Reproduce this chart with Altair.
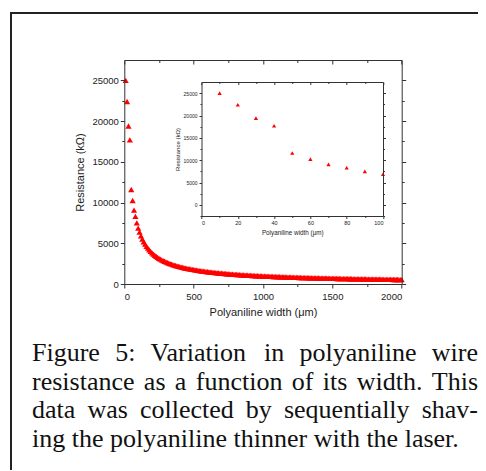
import altair as alt
import pandas as pd

# ---------------- data ----------------
inset_width = [10, 20, 30, 40, 50, 60, 70, 80, 90, 100]
inset_res = [25000, 22400, 19400, 17700, 11600, 10250, 9070, 8300, 7500, 6850]

curve_width = list(range(110, 2001, 10))
curve_res = [
    6363, 5909, 5521, 5183, 4888, 4628, 4395, 4187, 3999, 3828,
    3673, 3530, 3399, 3278, 3166, 3063, 2966, 2876, 2791, 2712,
    2637, 2567, 2501, 2438, 2379, 2323, 2269, 2218, 2170, 2124,
    2080, 2038, 1997, 1958, 1921, 1886, 1851, 1819, 1787, 1757,
    1728, 1699, 1672, 1646, 1620, 1596, 1572, 1549, 1527, 1505,
    1484, 1463, 1444, 1424, 1406, 1388, 1370, 1353, 1336, 1320,
    1304, 1289, 1274, 1259, 1245, 1231, 1217, 1204, 1191, 1178,
    1166, 1154, 1142, 1130, 1119, 1108, 1097, 1087, 1076, 1066,
    1056, 1046, 1037, 1027, 1018, 1009, 1000, 992, 983, 975,
    967, 959, 951, 943, 935, 928, 920, 913, 906, 899,
    892, 885, 879, 872, 866, 859, 853, 847, 841, 835,
    829, 823, 818, 812, 807, 801, 796, 790, 785, 780,
    775, 770, 765, 760, 755, 751, 746, 741, 737, 732,
    728, 724, 719, 715, 711, 707, 703, 699, 695, 691,
    687, 683, 679, 675, 672, 668, 664, 661, 657, 654,
    650, 647, 644, 640, 637, 634, 631, 627, 624, 621,
    618, 615, 612, 609, 606, 603, 600, 597, 594, 592,
    589, 586, 583, 581, 578, 575, 573, 570, 568, 565,
    562, 560, 558, 555, 553, 550, 548, 546, 543, 541,
]

main_x_ticks = [0, 500, 1000, 1500, 2000]
main_x_minor = [250, 750, 1250, 1750]
main_y_ticks = [0, 5000, 10000, 15000, 20000, 25000]
main_y_minor = [2500, 7500, 12500, 17500, 22500]
inset_x_ticks = [0, 20, 40, 60, 80, 100]
inset_x_minor = [10, 30, 50, 70, 90]
inset_y_ticks = [0, 5000, 10000, 15000, 20000, 25000]
inset_y_minor = [-2500, 2500, 7500, 12500, 17500, 22500]

caption_lines = [
    "Figure 5: Variation in polyaniline wire",
    "resistance as a function of its width. This",
    "data was collected by sequentially shav-",
    "ing the polyaniline thinner with the laser.",
]

# ---------------- layout ----------------
X0, Y0 = 124.3, 60.0          # page position of main plot area
W, H = 277.4, 224.0
IX0, IX1 = 201.5 - X0, 383.0 - X0   # inset frame (view coords)
IY0, IY1 = 82.0 - Y0, 216.0 - Y0

SVG_W, SVG_H = 470, 462

CAP_FS = 26
CAP_L, CAP_R = 32.0, 478.0
CAP_BASE, CAP_LEAD = 361.0, 28.5

TIMES = {' ': 250, 'a': 444, 'b': 500, 'c': 444, 'd': 500, 'e': 444, 'f': 333, 'g': 500,
         'h': 500, 'i': 278, 'l': 278, 'n': 500, 'o': 500, 'p': 500, 'q': 500, 'r': 333,
         's': 389, 't': 278, 'u': 500, 'v': 500, 'w': 722, 'y': 500, 'F': 556, 'T': 611,
         'V': 722, '5': 500, ':': 278, '.': 250, '-': 333}


def tw(s):
    return sum(TIMES.get(c, 500) for c in s) * CAP_FS / 1000.0


rows = []
for i, line in enumerate(caption_lines):
    words = line.split(' ')
    yb = CAP_BASE + i * CAP_LEAD - Y0
    if i < len(caption_lines) - 1:
        gap = (CAP_R - CAP_L - sum(tw(w) for w in words)) / (len(words) - 1)
    else:
        gap = tw(' ')
    x = CAP_L
    for w in words:
        rows.append({'word': w, 'x': x - X0, 'y': yb})
        x += tw(w) + gap
cap_df = pd.DataFrame(rows)

main_df = pd.DataFrame({'w': inset_width + curve_width, 'r': inset_res + curve_res})
inset_df = pd.DataFrame({'w': inset_width, 'r': inset_res})
dummy = pd.DataFrame({'w': [0], 'r': [0]})

AX = dict(domainColor='#333333', tickColor='#333333', labelColor='#222222',
          titleColor='#222222', labelFont='Liberation Sans', titleFont='Liberation Sans',
          titleFontWeight='normal', grid=False, zindex=1, domainWidth=1, tickWidth=1)


def mscale_x():
    return alt.Scale(domain=[0, 2000], range=[0, W], nice=False, zero=False)


def mscale_y():
    return alt.Scale(domain=[0, 27500], range=[H, 0], nice=False, zero=False)


def iscale_x():
    return alt.Scale(domain=[0, 100], range=[IX0, IX1], nice=False, zero=False)


def iscale_y():
    return alt.Scale(domain=[-2500, 27500], range=[IY1, IY0], nice=False, zero=False)


# border + caption
border = alt.Chart(dummy).mark_rect(fillOpacity=0, stroke='#222222', strokeWidth=2).encode(
    x=alt.value(11 - X0), x2=alt.value(500 - X0), y=alt.value(13 - Y0), y2=alt.value(490 - Y0))

caption = alt.Chart(cap_df).mark_text(align='left', baseline='alphabetic', font='Liberation Serif',
                                      fontSize=CAP_FS, color='#111111').encode(
    x=alt.X('x:Q', scale=None, axis=None), y=alt.Y('y:Q', scale=None, axis=None), text='word:N')

# main plot
main_pts = alt.Chart(main_df).mark_point(shape='triangle-up', filled=True, color='#ff0000',
                                         size=38, opacity=1).encode(
    x=alt.X('w:Q', scale=mscale_x(), axis=alt.Axis(
        orient='bottom', title='Polyaniline width (μm)', values=main_x_ticks, format='d',
        tickSize=4, labelFontSize=9.5, titleFontSize=11, labelPadding=3, titlePadding=6, **AX)),
    y=alt.Y('r:Q', scale=mscale_y(), axis=alt.Axis(
        orient='left', title='Resistance (kΩ)', values=main_y_ticks, format='d',
        tickSize=4, labelFontSize=9.5, titleFontSize=11, labelPadding=2, titlePadding=6, **AX)),
)

main_minor = alt.Chart(dummy).mark_point(opacity=0).encode(
    x=alt.X('w:Q', scale=mscale_x(), axis=alt.Axis(orient='bottom', title='', values=main_x_minor,
                                                  labels=False, domain=False, tickSize=2.5, **AX)),
    y=alt.Y('r:Q', scale=mscale_y(), axis=alt.Axis(orient='left', title='', values=main_y_minor,
                                                  labels=False, domain=False, tickSize=2.5, **AX)),
)

main_mirror = alt.Chart(dummy).mark_point(opacity=0).encode(
    x=alt.X('w:Q', scale=mscale_x(), axis=alt.Axis(orient='bottom', offset=-H, title='',
                                                  values=main_x_ticks, labels=False, tickSize=4, **AX)),
    y=alt.Y('r:Q', scale=mscale_y(), axis=alt.Axis(orient='right', title='', values=main_y_ticks,
                                                  labels=False, tickSize=4, **AX)),
)

main_mirror_minor = alt.Chart(dummy).mark_point(opacity=0).encode(
    x=alt.X('w:Q', scale=mscale_x(), axis=alt.Axis(orient='bottom', offset=-H, title='',
                                                  values=main_x_minor, labels=False, domain=False,
                                                  tickSize=2.5, **AX)),
    y=alt.Y('r:Q', scale=mscale_y(), axis=alt.Axis(orient='right', title='', values=main_y_minor,
                                                  labels=False, domain=False, tickSize=2.5, **AX)),
)

# inset
inset_bg = alt.Chart(dummy).mark_rect(color='white').encode(
    x=alt.value(IX0), x2=alt.value(IX1), y=alt.value(IY0), y2=alt.value(IY1))

inset_pts = alt.Chart(inset_df).mark_point(shape='triangle-up', filled=True, color='#ff0000',
                                           size=18, opacity=1).encode(
    x=alt.X('w:Q', scale=iscale_x(), axis=alt.Axis(
        orient='bottom', offset=IY1 - H, title='Polyaniline width (μm)', values=inset_x_ticks,
        format='d', tickSize=2.5, labelFontSize=5.5, titleFontSize=6.3, labelPadding=2,
        titlePadding=3, **AX)),
    y=alt.Y('r:Q', scale=iscale_y(), axis=alt.Axis(
        orient='left', offset=-IX0, title='Resistance (kΩ)', values=inset_y_ticks, format='d',
        tickSize=2.5, labelFontSize=5, titleFontSize=6, labelPadding=2, titlePadding=3, **AX)),
)

inset_minor = alt.Chart(dummy).mark_point(opacity=0).encode(
    x=alt.X('w:Q', scale=iscale_x(), axis=alt.Axis(orient='bottom', offset=IY1 - H, title='',
                                                   values=inset_x_minor, labels=False, domain=False,
                                                   tickSize=1.5, **AX)),
    y=alt.Y('r:Q', scale=iscale_y(), axis=alt.Axis(orient='left', offset=-IX0, title='',
                                                   values=inset_y_minor, labels=False, domain=False,
                                                   tickSize=1.5, **AX)),
)

inset_mirror = alt.Chart(dummy).mark_point(opacity=0).encode(
    x=alt.X('w:Q', scale=iscale_x(), axis=alt.Axis(orient='bottom', offset=IY0 - H, title='',
                                                   values=inset_x_ticks, labels=False,
                                                   tickSize=2.5, **AX)),
    y=alt.Y('r:Q', scale=iscale_y(), axis=alt.Axis(orient='right', offset=IX1 - W, title='',
                                                   values=inset_y_ticks, labels=False,
                                                   tickSize=2.5, **AX)),
)

inset_mirror_minor = alt.Chart(dummy).mark_point(opacity=0).encode(
    x=alt.X('w:Q', scale=iscale_x(), axis=alt.Axis(orient='bottom', offset=IY0 - H, title='',
                                                   values=inset_x_minor, labels=False, domain=False,
                                                   tickSize=1.5, **AX)),
    y=alt.Y('r:Q', scale=iscale_y(), axis=alt.Axis(orient='right', offset=IX1 - W, title='',
                                                   values=inset_y_minor, labels=False, domain=False,
                                                   tickSize=1.5, **AX)),
)

chart = alt.layer(
    border, caption, main_pts, main_minor, main_mirror, main_mirror_minor,
    inset_bg, inset_pts, inset_minor, inset_mirror, inset_mirror_minor,
).resolve_scale(x='independent', y='independent').properties(
    width=W, height=H, autosize='none',
    padding={'left': X0 - 8, 'top': Y0 - 8, 'right': SVG_W - (X0 - 8) - W,
             'bottom': SVG_H - (Y0 - 8) - H},
    background='white',
).configure_view(strokeWidth=0)

chart.save("out.html", embed_options={"renderer": "svg", "actions": False})
